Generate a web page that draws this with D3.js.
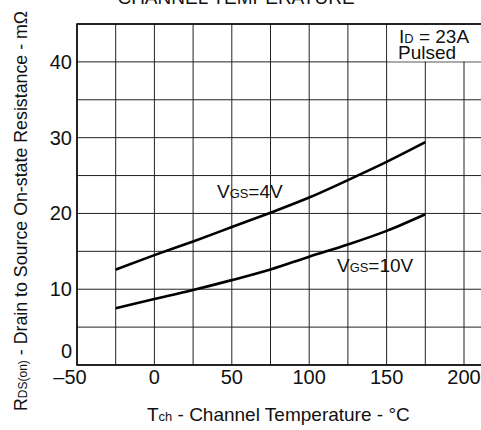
<!DOCTYPE html>
<html>
<head>
<meta charset="utf-8">
<script src="https://cdn.jsdelivr.net/npm/d3@7"></script>
<style>
  body { margin: 0; background: #fff; }
  text { font-family: "Liberation Sans", Arial, sans-serif; fill: #111; }
</style>
</head>
<body>
<div id="chart-area"></div>
<script>
var width = 481;
var height = 430;

// data
var temps = [-25, 0, 25, 50, 75, 100, 125, 150, 175];
var rds4V = [12.6, 14.5, 16.3, 18.2, 20.1, 22.1, 24.4, 26.8, 29.4];
var rds10V = [7.5, 8.7, 9.9, 11.2, 12.6, 14.3, 15.9, 17.7, 19.9];
var xTicks = [-50, 0, 50, 100, 150, 200];
var xTickLabels = ["\u201350", "0", "50", "100", "150", "200"];
var yTicks = [0, 10, 20, 30, 40];

var svg = d3.select("#chart-area").append("svg")
    .attr("width", width)
    .attr("height", height);

var x = d3.scaleLinear().domain([-50, 225]).range([77, 502.7]);
var y = d3.scaleLinear().domain([0, 45]).range([365, 24]);

// grid
var grid = svg.append("g");
grid.selectAll("line.v")
    .data(d3.range(-50, 226, 25))
    .enter().append("line")
    .attr("x1", d => x(d)).attr("x2", d => x(d))
    .attr("y1", y(0)).attr("y2", y(45))
    .attr("stroke", "#222").attr("stroke-width", 1);
grid.selectAll("line.h")
    .data(d3.range(0, 46, 5))
    .enter().append("line")
    .attr("x1", x(-50)).attr("x2", x(225))
    .attr("y1", d => y(d)).attr("y2", d => y(d))
    .attr("stroke", "#222").attr("stroke-width", 1);

// white box behind the condition note
svg.append("rect")
    .attr("x", x(150) + 1).attr("y", y(45) + 1)
    .attr("width", x(225) - x(150)).attr("height", y(40) - y(45) - 1.5)
    .attr("fill", "#fff");

// frame
svg.append("rect")
    .attr("x", x(-50)).attr("y", y(45))
    .attr("width", x(225) - x(-50)).attr("height", y(0) - y(45))
    .attr("fill", "none").attr("stroke", "#000").attr("stroke-width", 1.5);

// curves
var line = d3.line()
    .x((d, i) => x(temps[i]))
    .y(d => y(d))
    .curve(d3.curveMonotoneX);

[rds4V, rds10V].forEach(function(s) {
    svg.append("path")
        .attr("d", line(s))
        .attr("fill", "none")
        .attr("stroke", "#000")
        .attr("stroke-width", 2.6);
});

// tick labels
svg.selectAll("text.xt")
    .data(xTicks)
    .enter().append("text")
    .attr("x", (d, i) => x(d) + (i == 0 ? -7 : 0))
    .attr("y", 384)
    .attr("text-anchor", "middle")
    .attr("font-size", 20)
    .text((d, i) => xTickLabels[i]);

svg.selectAll("text.yt")
    .data(yTicks)
    .enter().append("text")
    .attr("x", 72)
    .attr("y", d => d == 0 ? 358 : y(d) + 7)
    .attr("text-anchor", "end")
    .attr("font-size", 20)
    .text(d => d);

// curve labels
function subLabel(px, py, big, small, rest, size) {
    var t = svg.append("text").attr("x", px).attr("y", py).attr("font-size", size);
    t.append("tspan").text(big);
    t.append("tspan").attr("font-size", size * 0.68).text(small);
    t.append("tspan").text(rest);
    return t;
}
subLabel(217, 198, "V", "GS", "=4V", 19);
subLabel(337, 272, "V", "GS", "=10V", 19);
subLabel(399, 43, "I", "D", " = 23A", 19);
svg.append("text").attr("x", 398).attr("y", 59).attr("font-size", 19).text("Pulsed");

// title (cut off at top)
svg.append("text")
    .attr("x", 236).attr("y", 4)
    .attr("text-anchor", "middle")
    .attr("font-size", 19)
    .text("CHANNEL TEMPERATURE");

// x axis title
subLabel(147, 421, "T", "ch", " - Channel Temperature - \u00B0C", 19);

// y axis title
var yt = svg.append("text")
    .attr("transform", "translate(27,411) rotate(-90)")
    .attr("font-size", 17.8);
yt.append("tspan").text("R");
yt.append("tspan").attr("font-size", 12).text("DS(on)");
yt.append("tspan").text(" -  Drain to Source On-state Resistance - m\u03A9");
</script>
</body>
</html>
